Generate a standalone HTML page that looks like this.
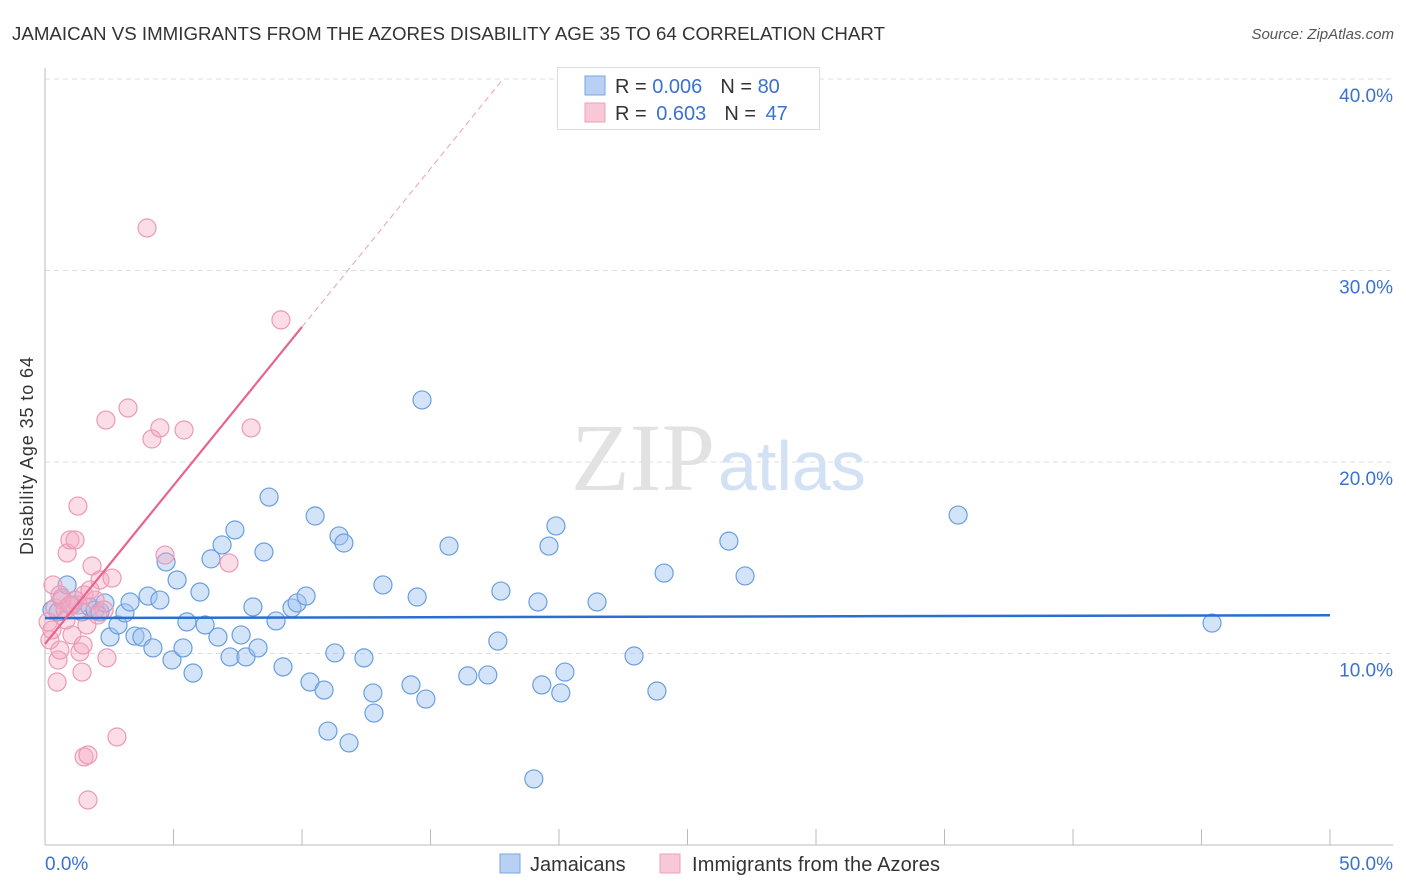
<!DOCTYPE html>
<html><head><meta charset="utf-8"><style>
body{margin:0;background:#fff;font-family:"Liberation Sans",sans-serif;}
svg{display:block}
</style></head><body>
<svg id="chart" width="1406" height="892">
<text x="12" y="40" font-size="18" fill="#333" textLength="873" lengthAdjust="spacingAndGlyphs">JAMAICAN VS IMMIGRANTS FROM THE AZORES DISABILITY AGE 35 TO 64 CORRELATION CHART</text>
<text x="1394" y="39" font-size="15" fill="#555" font-style="italic" text-anchor="end">Source: ZipAtlas.com</text>
<text x="33" y="456" font-size="18" fill="#333" text-anchor="middle" textLength="198" transform="rotate(-90 33 456)">Disability Age 35 to 64</text>
<g id="grid"></g>
<text x="715" y="490" font-size="96" fill="#e2e2e2" text-anchor="end" font-family="Liberation Serif">ZIP</text>
<text x="718" y="490" font-size="70" fill="#d3e1f5">atlas</text>
<g id="pts"></g>
<g id="lines"></g>
<g>
<rect x="557.5" y="67.5" width="262" height="62" fill="#fff" stroke="#ddd"/>
<rect x="585" y="76" width="20" height="19" fill="#b8d0f4" stroke="#7aa6e4"/>
<rect x="585" y="103" width="20" height="19" fill="#f8c8d6" stroke="#f0a0b8"/>
<text x="615" y="93" font-size="20" fill="#333">R = <tspan fill="#3a72d0">0.006</tspan><tspan dx="18">N = </tspan><tspan fill="#3a72d0">80</tspan></text>
<text x="615" y="120" font-size="20" fill="#333">R = <tspan fill="#3a72d0" dx="4">0.603</tspan><tspan dx="18">N = </tspan><tspan fill="#3a72d0" dx="4">47</tspan></text>
</g>
<g>
<rect x="500" y="854" width="20" height="19" fill="#b8d0f4" stroke="#7aa6e4"/>
<text x="530" y="871" font-size="20" fill="#333">Jamaicans</text>
<rect x="660" y="854" width="20" height="19" fill="#f8c8d6" stroke="#f0a0b8"/>
<text x="692" y="871" font-size="20" fill="#333" textLength="248">Immigrants from the Azores</text>
</g>
</svg>
<script>
const yTicks=[10,20,30,40];
const yTickLabels=["10.0%","20.0%","30.0%","40.0%"];
const xTickVals=[0,5,10,15,20,25,30,35,40,45,50];
const blueX=[0.27,0.51,0.66,0.86,1.05,1.17,1.44,1.75,1.95,2.14,2.33,2.53,2.84,3.11,3.31,3.50,3.77,4.01,4.20,4.47,4.71,4.94,5.14,5.37,5.52,5.76,6.03,6.23,6.46,6.73,6.89,7.20,7.39,7.63,7.82,8.09,8.29,8.52,8.72,8.99,9.26,9.61,9.81,10.16,10.31,10.51,10.86,11.01,11.28,11.44,11.63,11.83,12.41,12.76,12.80,13.15,14.24,14.48,14.82,14.67,15.72,16.45,17.23,17.62,17.74,19.02,19.18,19.33,19.61,19.88,20.07,20.23,21.48,22.92,23.81,24.09,26.61,27.24,35.53,45.41];
const blueY=[12.27,12.17,12.90,13.58,12.53,12.79,12.17,12.43,12.27,12.17,12.64,10.86,11.49,12.12,12.69,10.91,10.86,13.00,10.29,12.79,14.78,9.66,13.84,10.29,11.65,8.98,13.21,11.49,14.94,10.86,15.67,9.82,16.45,10.97,9.82,12.43,10.29,15.30,18.17,11.70,9.30,12.38,12.64,13.00,8.51,17.18,8.09,5.95,10.03,16.14,15.77,5.33,9.77,7.94,6.89,13.58,8.36,12.95,7.62,23.24,15.61,8.83,8.88,10.65,13.26,3.45,12.69,8.36,15.61,16.66,7.94,9.03,12.69,9.87,8.04,14.20,15.87,14.05,17.23,11.59];
const pinkX=[0.19,0.31,0.39,0.47,0.51,0.58,0.66,0.78,0.86,0.97,1.05,1.17,1.17,1.28,1.28,1.36,1.44,1.48,1.52,1.52,1.63,1.67,1.67,1.83,1.95,2.14,2.30,2.37,2.41,2.61,2.80,3.23,4.16,3.97,4.47,4.67,5.41,7.16,8.02,9.18,0.12,0.27,0.58,0.82,1.75,0.97,2.06];
const pinkY=[10.71,13.58,12.38,8.51,9.66,10.18,12.79,12.27,15.25,15.93,10.97,12.79,15.93,12.53,17.70,10.08,9.03,10.44,13.06,4.60,11.49,4.70,2.35,14.57,12.79,13.84,12.27,22.19,9.77,13.94,5.64,22.82,21.20,32.22,21.78,15.14,21.67,14.73,21.78,27.42,11.65,11.23,13.06,11.75,13.32,12.53,12.01];
const blueTrend=[11.85,12.0];
const pinkTrend=[10.5,1.655];
const NS="http://www.w3.org/2000/svg";
const X=v=>45+v/50*1285, Y=v=>845-v/10*191.5;
function mk(tag,attrs,parent){const e=document.createElementNS(NS,tag);for(const k in attrs)e.setAttribute(k,attrs[k]);parent.appendChild(e);return e;}
const grid=document.getElementById('grid');
yTicks.forEach((t,i)=>{
 const l=mk('line',{x1:45,x2:1393,y1:Y(t),y2:Y(t),stroke:'#ddd','stroke-dasharray':'5,4'},grid);
 
 
 const tx=mk('text',{x:1393,y:Y(t)+23,'font-size':19,fill:'#3a72d0','text-anchor':'end'},grid);
 tx.textContent=yTickLabels[i];
 
 
});
const ax=mk('line',{x1:45,x2:45,y1:68,y2:845,stroke:'#bbb'},grid);


const bx=mk('line',{x1:45,x2:1393,y1:845,y2:845,stroke:'#bbb'},grid);


xTickVals.forEach(t=>{
 const l=mk('line',{x1:X(t),x2:X(t),y1:829,y2:845,stroke:'#bbb'},grid);
 
 
});
const xl0=mk('text',{x:45,y:870,'font-size':19,fill:'#3a72d0'},grid);xl0.textContent="0.0%";


const xl1=mk('text',{x:1393,y:870,'font-size':19,fill:'#3a72d0','text-anchor':'end'},grid);xl1.textContent="50.0%";


const pts=document.getElementById('pts');
blueX.forEach((x,i)=>{
 const c=mk('circle',{cx:X(x),cy:Y(blueY[i]),r:9,fill:'rgba(160,196,240,0.45)',stroke:'#6a9ee0','stroke-width':1.2},pts);
 
 
});
pinkX.forEach((x,i)=>{
 const c=mk('circle',{cx:X(x),cy:Y(pinkY[i]),r:9,fill:'rgba(244,170,195,0.4)',stroke:'#eb9ab5','stroke-width':1.2},pts);
 
 
});
const lines=document.getElementById('lines');
const bl=mk('line',{x1:X(0),y1:Y(blueTrend[0]),x2:X(50),y2:Y(blueTrend[1]),stroke:'#2a6fcf','stroke-width':2.5},lines);


const pf=v=>pinkTrend[0]+pinkTrend[1]*v;
const ps=mk('line',{x1:X(0),y1:Y(pf(0)),x2:X(10),y2:Y(pf(10)),stroke:'#e8638e','stroke-width':2.2},lines);


const xe=(40-pinkTrend[0])/pinkTrend[1];
const pd=mk('line',{x1:X(10),y1:Y(pf(10)),x2:X(xe),y2:Y(40),stroke:'#e8a0b8','stroke-width':1,'stroke-dasharray':'6,4'},lines);


</script>
</body></html>
